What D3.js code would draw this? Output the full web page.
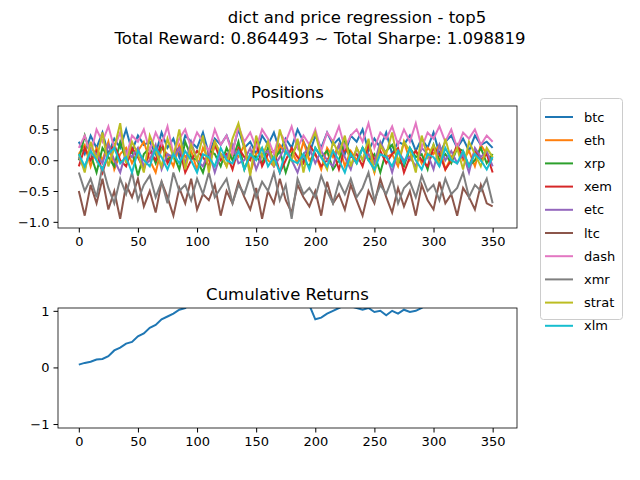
<!DOCTYPE html>
<html><head><meta charset="utf-8">
<script src="https://cdn.jsdelivr.net/npm/d3@7"></script>
<style>body{margin:0;background:#fff}text{font-family:"DejaVu Sans",sans-serif}</style>
</head><body>
<script>
// sampled every 5 steps, 0..350
const steps = d3.range(0, 351, 5)
const names = ["btc","eth","xrp","xem","etc","ltc","dash","xmr","strat","xlm"]
const colors = ["#1f77b4","#ff7f0e","#2ca02c","#d62728","#9467bd","#8c564b","#e377c2","#7f7f7f","#bcbd22","#17becf"]

const btc = [0.3,0.1,0.4,0.2,0.45,0.1,0.35,0.2,0.5,0.15,0.4,0.25,0.3,0.1,0.45,0.2,0.35,0.05,0.4,0.3,0.2,0.45,0.1,0.35,0.25,0.4,0.15,0.5,0.2,0.3,0.1,0.4,0.25,0.45,0.15,0.35,0.2,0.5,0.3,0.1,0.4,0.2,0.45,0.25,0.35,0.1,0.4,0.3,0.5,0.15,0.35,0.2,0.45,0.1,0.3,0.25,0.4,0.15,0.35,0.2,0.45,0.1,0.3,0.4,0.2,0.35,0.15,0.4,0.25,0.3,0.2]
const eth = [0.1,0.25,-0.1,0.2,0.0,0.3,-0.15,0.1,0.2,-0.05,0.15,0.3,0.0,-0.2,0.2,0.1,-0.1,0.25,0.05,0.15,-0.15,0.2,0.0,0.3,0.1,-0.1,0.15,0.05,0.25,-0.2,0.1,0.2,0.0,-0.1,0.25,0.1,0.15,-0.05,0.3,0.0,0.1,-0.15,0.2,0.05,0.25,-0.1,0.15,0.0,0.2,0.1,-0.2,0.25,0.05,0.1,-0.1,0.3,0.0,0.15,-0.05,0.2,0.1,0.25,-0.15,0.05,0.2,0.0,0.15,-0.1,0.25,0.1,0.0]
const xrp = [0.0,0.4,0.1,-0.2,0.2,0.05,-0.1,0.3,0.0,0.15,-0.25,0.1,0.2,-0.05,0.25,0.0,0.1,-0.15,0.3,0.05,0.0,-0.2,0.15,0.1,-0.1,0.2,0.0,0.3,-0.15,0.1,0.05,-0.05,0.2,0.0,0.15,-0.2,0.1,0.25,0.0,-0.1,0.2,0.05,0.15,-0.15,0.0,0.3,0.1,-0.05,0.2,0.0,0.1,-0.2,0.15,0.25,0.0,-0.1,0.2,0.05,0.1,-0.15,0.25,0.0,0.1,-0.05,0.2,0.15,-0.1,0.0,0.2,-0.05,0.1]
const xem = [-0.1,0.2,0.0,0.15,-0.2,0.1,0.25,0.0,-0.1,0.2,0.05,-0.15,0.15,0.0,0.3,-0.05,0.1,0.2,-0.2,0.0,0.15,0.05,-0.1,0.25,0.0,0.1,-0.15,0.2,0.05,0.0,0.3,-0.1,0.1,0.15,-0.2,0.0,0.2,0.05,-0.05,0.25,0.1,-0.1,0.0,0.15,-0.15,0.2,0.05,0.1,-0.1,0.25,0.0,0.15,-0.05,0.1,0.2,-0.2,0.05,0.15,0.0,-0.1,0.2,0.1,-0.15,0.0,0.25,0.05,-0.1,0.15,0.0,0.1,-0.2]
const etc = [0.05,-0.15,0.2,0.1,-0.05,0.25,0.0,-0.2,0.15,0.05,0.2,-0.1,0.0,0.25,-0.15,0.1,0.05,0.2,-0.05,0.3,0.0,-0.1,0.15,-0.2,0.1,0.05,0.25,-0.05,0.0,0.2,-0.15,0.1,0.15,-0.1,0.05,0.25,0.0,-0.2,0.1,0.2,-0.05,0.15,0.0,-0.1,0.25,0.05,-0.15,0.2,0.0,0.1,-0.05,0.3,0.1,-0.2,0.15,0.0,0.05,-0.1,0.2,0.1,-0.15,0.25,0.0,0.15,-0.05,0.1,-0.2,0.2,0.05,0.15,-0.1]
const ltc = [-0.5,-0.9,-0.4,-0.7,-0.3,-0.8,-0.5,-0.95,-0.4,-0.6,-0.3,-0.75,-0.5,-0.85,-0.35,-0.6,-0.9,-0.45,-0.7,-0.3,-0.8,-0.55,-0.65,-0.4,-0.9,-0.5,-0.7,-0.35,-0.6,-0.8,-0.45,-0.95,-0.5,-0.7,-0.3,-0.65,-0.85,-0.4,-0.6,-0.75,-0.5,-0.9,-0.35,-0.7,-0.55,-0.8,-0.4,-0.65,-0.9,-0.5,-0.7,-0.3,-0.6,-0.85,-0.45,-0.75,-0.5,-0.9,-0.4,-0.65,-0.8,-0.35,-0.7,-0.55,-0.9,-0.45,-0.6,-0.8,-0.4,-0.7,-0.75]
const dash = [0.2,0.4,0.1,0.5,0.3,0.55,0.2,0.45,0.05,0.4,0.3,0.5,0.15,0.45,0.25,0.55,0.1,0.35,0.5,0.2,0.45,0.3,0.15,0.5,0.25,0.4,0.1,0.55,0.3,0.45,0.2,0.5,0.35,0.1,0.45,0.3,0.55,0.2,0.4,0.25,0.5,0.15,0.45,0.3,0.55,0.2,0.4,0.5,0.3,0.6,0.2,0.45,0.35,0.55,0.25,0.5,0.3,0.6,0.2,0.45,0.35,0.55,0.3,0.5,0.2,0.45,0.35,0.5,0.25,0.4,0.3]
const xmr = [-0.2,-0.5,-0.3,-0.6,-0.1,-0.45,-0.7,-0.3,-0.55,-0.2,-0.65,-0.4,-0.25,-0.6,-0.35,-0.7,-0.2,-0.5,-0.4,-0.65,-0.3,-0.55,-0.2,-0.6,-0.45,-0.3,-0.7,-0.4,-0.55,-0.25,-0.6,-0.35,-0.5,-0.2,-0.65,-0.4,-0.95,-0.3,-0.55,-0.45,-0.6,-0.25,-0.5,-0.7,-0.35,-0.55,-0.3,-0.6,-0.45,-0.2,-0.65,-0.4,-0.55,-0.3,-0.7,-0.45,-0.35,-0.6,-0.25,-0.5,-0.4,-0.65,-0.3,-0.55,-0.45,-0.2,-0.6,-0.4,-0.5,-0.3,-0.7]
const strat = [0.1,-0.2,0.3,0.0,0.45,-0.1,0.2,0.6,-0.05,0.3,0.1,-0.2,0.4,0.15,-0.1,0.35,0.05,0.5,-0.15,0.25,0.0,0.4,-0.2,0.3,0.1,-0.1,0.35,0.6,0.2,-0.25,0.4,0.05,0.3,-0.1,0.5,0.15,0.0,0.35,-0.2,0.25,0.45,0.05,-0.15,0.3,0.1,0.4,-0.1,0.2,0.0,0.35,-0.2,0.25,0.1,0.45,-0.05,0.3,0.15,-0.2,0.4,0.05,0.25,-0.1,0.35,0.0,0.2,-0.15,0.3,0.1,-0.1,0.2,0.05]
const xlm = [0.1,-0.1,0.15,0.0,-0.15,0.1,0.2,-0.05,0.05,-0.2,0.15,0.0,-0.1,0.2,0.05,-0.15,0.1,-0.05,0.15,0.0,-0.2,0.1,0.05,-0.1,0.2,0.0,-0.05,0.15,-0.15,0.1,0.0,0.2,-0.1,0.05,-0.2,0.15,0.0,-0.05,0.1,-0.15,0.2,0.05,-0.1,0.15,0.0,-0.2,0.1,-0.05,0.2,0.0,-0.15,0.1,0.05,-0.1,0.15,-0.05,0.2,0.0,-0.15,0.1,0.05,-0.1,0.2,0.0,-0.05,0.15,-0.1,0.1,0.0,-0.15,0.05]
const series = [btc,eth,xrp,xem,etc,ltc,dash,xmr,strat,xlm]

const cumulative = [0.05,0.08,0.1,0.14,0.15,0.2,0.3,0.35,0.42,0.45,0.55,0.6,0.7,0.75,0.85,0.9,0.95,1.02,1.05,1.15,
  1.2,1.3,1.4,1.35,1.5,1.45,1.6,1.55,1.5,1.4,1.45,1.5,1.35,1.3,1.4,1.45,1.3,1.25,1.2,1.1,
  0.85,0.88,0.95,1.0,1.05,1.1,1.08,1.05,1.02,1.05,0.98,1.0,0.92,1.0,0.95,1.02,0.98,1.0,1.05,1.15,
  1.2,1.3,1.25,1.4,1.35,1.5,1.45,1.4,1.5,1.55,1.5]

const W = 640, H = 480
const svg = d3.select("body").append("svg").attr("width", W).attr("height", H)

svg.append("text").attr("x", 357).attr("y", 23).attr("text-anchor", "middle").attr("font-size", 16.5)
  .text("dict and price regression - top5")
svg.append("text").attr("x", 320).attr("y", 44).attr("text-anchor", "middle").attr("font-size", 16.5)
  .text("Total Reward: 0.864493 ~ Total Sharpe: 1.098819")

const x0 = 58, x1 = 517
const x = d3.scaleLinear().domain([-17.6, 370.6]).range([x0, x1])

const panel = (top, bottom, ydom, yticks, fmt, title, id) => {
  const y = d3.scaleLinear().domain(ydom).range([bottom, top])
  svg.append("clipPath").attr("id", id).append("rect")
    .attr("x", x0).attr("y", top).attr("width", x1 - x0).attr("height", bottom - top)
  svg.append("text").attr("x", (x0 + x1) / 2).attr("y", top - 8).attr("text-anchor", "middle")
    .attr("font-size", 16.5).text(title)
  svg.append("g").attr("transform", `translate(0,${bottom})`)
    .call(d3.axisBottom(x).tickValues(d3.range(0, 351, 50)).tickSizeOuter(0).tickSize(4.5).tickPadding(4))
    .call(g => g.selectAll("text").attr("font-size", 13).attr("fill", "#000"))
    .call(g => g.select(".domain").remove())
  svg.append("g").attr("transform", `translate(${x0},0)`)
    .call(d3.axisLeft(y).tickValues(yticks).tickFormat(fmt).tickSize(4.5).tickPadding(4))
    .call(g => g.selectAll("text").attr("font-size", 13).attr("fill", "#000"))
    .call(g => g.select(".domain").remove())
  return y
}

const y1 = panel(106, 228, [-1.1, 0.88], [-1, -0.5, 0, 0.5], d3.format(".1f"), "Positions", "c1")
const g1 = svg.append("g").attr("clip-path", "url(#c1)")
series.forEach((s, i) => {
  g1.append("path").datum(s).attr("fill", "none").attr("stroke", colors[i]).attr("stroke-width", 2)
    .attr("d", d3.line().x((d, j) => x(steps[j])).y(d => y1(d)))
})
svg.append("rect").attr("x", x0).attr("y", 106).attr("width", x1 - x0).attr("height", 122)
  .attr("fill", "none").attr("stroke", "#000").attr("stroke-width", 0.8)

const y2 = panel(308, 428, [-1.07, 1.05], [-1, 0, 1], d3.format("d"), "Cumulative Returns", "c2")
svg.append("g").attr("clip-path", "url(#c2)").append("path").datum(cumulative)
  .attr("fill", "none").attr("stroke", colors[0]).attr("stroke-width", 2)
  .attr("d", d3.line().x((d, j) => x(steps[j])).y(d => y2(d)))
svg.append("rect").attr("x", x0).attr("y", 308).attr("width", x1 - x0).attr("height", 120)
  .attr("fill", "none").attr("stroke", "#000").attr("stroke-width", 0.8)

// legend
const lg = svg.append("g")
lg.append("rect").attr("x", 540.5).attr("y", 98.5).attr("width", 82).attr("height", 221).attr("rx", 3)
  .attr("fill", "#fff").attr("stroke", "#cccccc").attr("stroke-width", 1)
names.forEach((n, i) => {
  const yy = 117 + i * 23.2
  lg.append("line").attr("x1", 545).attr("x2", 573).attr("y1", yy).attr("y2", yy)
    .attr("stroke", colors[i]).attr("stroke-width", 2)
  lg.append("text").attr("x", 584).attr("y", yy + 4.5).attr("font-size", 13).text(n)
})
</script>
</body></html>
